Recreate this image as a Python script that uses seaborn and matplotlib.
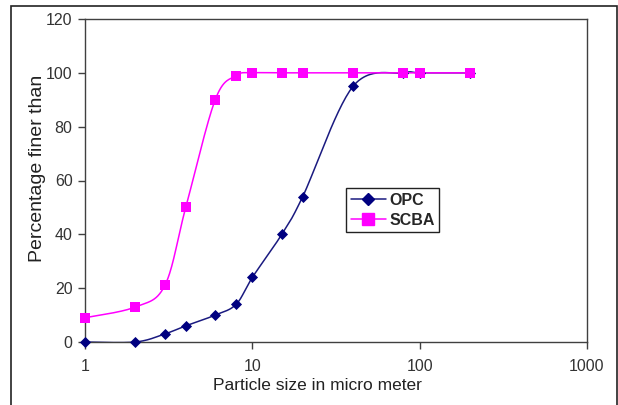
import numpy as np
import pandas as pd
import matplotlib
matplotlib.use("Agg")
import matplotlib.pyplot as plt
from matplotlib.lines import Line2D
from matplotlib.patches import Rectangle
import seaborn as sns

# ---- data ----
opc_size = [1, 2, 3, 4, 6, 8, 10, 15, 20, 40, 80, 100, 200]
opc_pct = [0, 0, 3, 6, 10, 14, 24, 40, 54, 95, 100, 100, 100]
scba_size = [1, 2, 3, 4, 6, 8, 10, 15, 20, 40, 80, 100, 200]
scba_pct = [9, 13, 21, 50, 90, 99, 100, 100, 100, 100, 100, 100, 100]
x_ticks = [1, 10, 100, 1000]
x_tick_labels = ["1", "10", "100", "1000"]
y_ticks = [0, 20, 40, 60, 80, 100, 120]

sns.set_style("white")
plt.rcParams['font.family'] = ['Liberation Sans', 'DejaVu Sans']


def smooth(xs, ys, n=30):
    """Excel-style smoothed line (Catmull-Rom Bezier) in log-x space, for drawing only."""
    lx = np.log10(np.asarray(xs, float))
    y = np.asarray(ys, float)
    P = np.column_stack([lx, y])
    out = []
    for i in range(len(P) - 1):
        p0 = P[i - 1] if i > 0 else P[i]
        p1, p2 = P[i], P[i + 1]
        p3 = P[i + 2] if i + 2 < len(P) else P[i + 1]
        c1 = p1 + (p2 - p0) / 6.0
        c2 = p2 - (p3 - p1) / 6.0
        t = np.linspace(0, 1, n)[:, None]
        seg = ((1 - t) ** 3) * p1 + 3 * ((1 - t) ** 2) * t * c1 + 3 * (1 - t) * t ** 2 * c2 + t ** 3 * p2
        out.append(seg if i == 0 else seg[1:])
    out = np.vstack(out)
    return pd.DataFrame({"x": 10 ** out[:, 0], "y": out[:, 1]})


fig = plt.figure(figsize=(6.18, 4.05), dpi=100)
ax = fig.add_axes([85 / 618, 1 - 342 / 405, (587 - 85) / 618, (342 - 19) / 405])

opc_col_line = "#1a1a80"
opc_col = "#000080"
scba_col = "#ff00ff"

s_opc = smooth(opc_size, opc_pct)
s_scba = smooth(scba_size, scba_pct)
sns.lineplot(data=s_opc, x="x", y="y", ax=ax, color=opc_col_line, lw=1.1, sort=False, estimator=None)
sns.lineplot(data=s_scba, x="x", y="y", ax=ax, color=scba_col, lw=1.1, sort=False, estimator=None)

df_opc = pd.DataFrame({"size": opc_size, "pct": opc_pct})
df_scba = pd.DataFrame({"size": scba_size, "pct": scba_pct})
sns.scatterplot(data=df_opc, x="size", y="pct", ax=ax, marker="D", s=32, color=opc_col,
                edgecolor=opc_col, linewidth=0, zorder=3, clip_on=False)
sns.scatterplot(data=df_scba, x="size", y="pct", ax=ax, marker="s", s=62, color=scba_col,
                edgecolor=scba_col, linewidth=0, zorder=4, clip_on=False)

ax.set_xscale("log")
ax.set_xlim(1, 1000)
ax.set_ylim(0, 120)
ax.set_xticks(x_ticks)
ax.set_xticklabels(x_tick_labels)
ax.set_yticks(y_ticks)
ax.minorticks_off()
ax.tick_params(axis="both", direction="out", length=5, width=1, color="#404040",
               labelsize=11.5, labelcolor="#333333", bottom=True, left=True, pad=4)
ax.tick_params(axis="x", pad=7)
for sp in ax.spines.values():
    sp.set_color("#404040")
    sp.set_linewidth(1.0)
ax.set_xlabel("Particle size in micro meter", fontsize=12.5, color="#222222")
ax.set_ylabel("Percentage finer than", fontsize=14, color="#222222")
ax.xaxis.set_label_coords((317.5 - 85) / 502, -(378 - 342) / 323)
ax.yaxis.set_label_coords((46 - 85) / 502, 1 - (168.5 - 19) / 323)

handles = [
    Line2D([], [], color=opc_col_line, lw=1.1, marker="D", markersize=6, markerfacecolor=opc_col,
           markeredgecolor=opc_col),
    Line2D([], [], color=scba_col, lw=1.1, marker="s", markersize=8, markerfacecolor=scba_col,
           markeredgecolor=scba_col),
]
leg = ax.legend(handles, ["OPC", "SCBA"], loc="upper left",
                bbox_to_anchor=((346 - 85) / (587 - 85), 1 - (188 - 19) / (342 - 19)),
                frameon=True, fancybox=False, edgecolor="#222222", framealpha=1,
                prop={"weight": "bold", "size": 11.5}, handlelength=2.2, handletextpad=0.2,
                borderpad=0.3, labelspacing=0.3, borderaxespad=0)
leg.get_frame().set_linewidth(1.0)

# outer figure border
fig.patches.append(Rectangle((11 / 618, -0.01), (617 - 11) / 618, 1 - 6 / 405 + 0.01,
                             transform=fig.transFigure, fill=False, edgecolor="#222222", lw=1.2))

fig.savefig("out.png", dpi=100)
